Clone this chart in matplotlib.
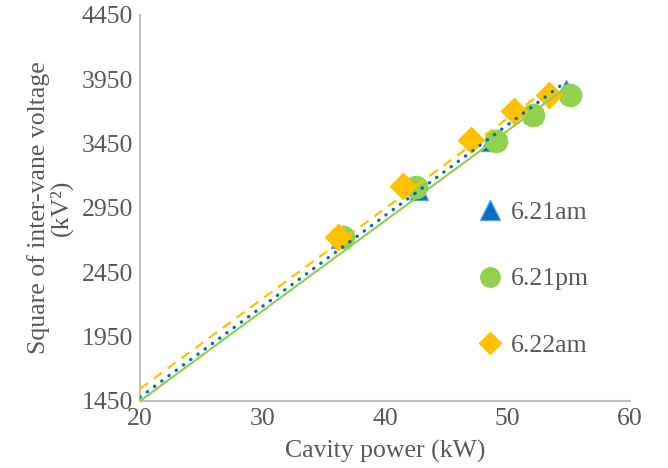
import matplotlib
matplotlib.use("Agg")
import matplotlib.pyplot as plt
import numpy as np
from matplotlib.lines import Line2D

plt.rcParams['font.family'] = ['Liberation Serif', 'DejaVu Serif']

labels = ["6.21am", "6.21pm", "6.22am"]
x_am21 = [36.3, 42.8, 48.6, 52.1, 54.8]
y_am21 = [2710, 3080, 3460, 3680, 3875]
x_pm21 = [36.6, 42.5, 49.1, 52.1, 55.1]
y_pm21 = [2725, 3110, 3470, 3670, 3830]
x_am22 = [36.2, 41.5, 47.0, 50.5, 53.4]
y_am22 = [2725, 3120, 3480, 3700, 3828]

# trendlines (value at x=20, slope per kW)
trend_start = 20
trend_am21 = (1480, 70.5)
trend_pm21 = (1450, 70.0)
trend_am22 = (1545, 70.0)

xticks = [20, 30, 40, 50, 60]
yticks = [1450, 1950, 2450, 2950, 3450, 3950, 4450]

c_blue = "#0070C0"
c_blue_edge = "#5B9BD5"
c_green = "#92D050"
c_gold = "#FFC000"
c_text = "#595959"
FS = 18.5

fig = plt.figure(figsize=(6.68, 4.68), dpi=100)
ax = fig.add_axes([0.2096, 0.1432, 0.7334, 0.8248])

ax.plot(x_am21, y_am21, linestyle="none", marker="^", markersize=13,
        markerfacecolor=c_blue, markeredgecolor=c_blue_edge, markeredgewidth=1, zorder=2)
ax.plot(x_pm21, y_pm21, linestyle="none", marker="o", markersize=16,
        markerfacecolor=c_green, markeredgecolor=c_green, zorder=3)
ax.plot(x_am22, y_am22, linestyle="none", marker="D", markersize=13,
        markerfacecolor=c_gold, markeredgecolor=c_gold, zorder=4)

def trend(xs, t):
    xe = np.array([trend_start, max(xs)])
    return xe, t[0] + t[1] * (xe - trend_start)

xe, ye = trend(x_pm21, trend_pm21)
ax.plot(xe, ye, color=c_green, lw=1.6, solid_capstyle="butt", zorder=5)
xe, ye = trend(x_am21, trend_am21)
ax.plot(xe, ye, color=c_blue, lw=2.4, linestyle=(0, (0.1, 2.6)), dash_capstyle="round", zorder=6)
xe, ye = trend(x_am22, trend_am22)
ax.plot(xe, ye, color=c_gold, lw=1.6, linestyle=(0, (4.5, 3.2)), dash_capstyle="butt", zorder=7)

ax.set_xlim(xticks[0], xticks[-1])
ax.set_ylim(yticks[0], yticks[-1])
ax.set_xticks(xticks)
ax.set_yticks(yticks)
ax.tick_params(length=0, labelsize=FS, labelcolor=c_text, pad=5)
for s in ["top", "right"]:
    ax.spines[s].set_visible(False)
for s in ["left", "bottom"]:
    ax.spines[s].set_color("#BFBFBF")
    ax.spines[s].set_linewidth(1.5)

ax.set_xlabel("Cavity power (kW)", fontsize=FS, color=c_text, labelpad=7)
ax.set_ylabel("Square of inter-vane voltage\n(kV²)", fontsize=FS, color=c_text, labelpad=6,
              linespacing=1.0)

handles = [
    Line2D([], [], linestyle="none", marker="^", markersize=14, markerfacecolor=c_blue,
           markeredgecolor=c_blue_edge, markeredgewidth=1),
    Line2D([], [], linestyle="none", marker="o", markersize=14, markerfacecolor=c_green,
           markeredgecolor=c_green),
    Line2D([], [], linestyle="none", marker="D", markersize=11, markerfacecolor=c_gold,
           markeredgecolor=c_gold),
]
leg = ax.legend(handles, labels, loc="center left", bbox_to_anchor=(0.64, 0.316),
                frameon=False, fontsize=FS, labelspacing=1.68, handlelength=1.0,
                handletextpad=0.35, labelcolor=c_text, borderpad=0.4)

fig.savefig("out.png", dpi=100)
